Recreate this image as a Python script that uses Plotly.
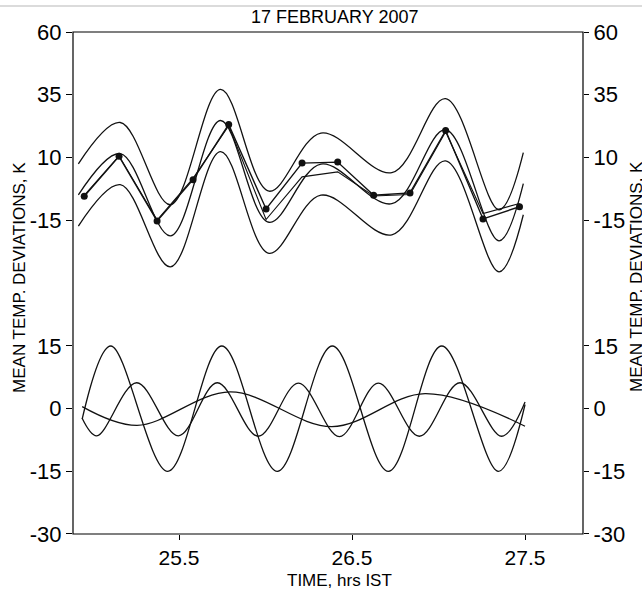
import plotly.graph_objects as go

# ---------------- data ----------------
# observed mean temperature deviations (dots), hours IST
obs_time = [24.952, 25.153, 25.373, 25.581, 25.787, 26.003, 26.211,
            26.417, 26.625, 26.835, 27.041, 27.257, 27.468]
obs_dev = [-5.5, 10.4, -15.4, 1.1, 23.1, -10.6, 7.7, 8.1, -5.1, -4.2,
           20.7, -14.6, -9.7]
# fitted values at the observation times (second thin polyline)
fit_at_obs = [-5.2, 10.6, -15.0, 1.6, 22.6, -14.8, 2.2, 4.2, -5.4, -4.8,
              20.2, -12.4, -8.4]

# fitted curve (turning points), top panel
fit_time = [24.918, 25.160, 25.450, 25.740, 26.020, 26.320, 26.730,
            27.040, 27.350, 27.490]
fit_dev = [-5.0, 11.5, -21.3, 24.7, -15.9, 7.3, -8.5, 21.0, -23.3, -0.5]
band_half_width = 12.4  # envelope above / below the fit

# harmonic components (turning points), bottom panel
h1_time = [24.940, 25.105, 25.435, 25.747, 26.068, 26.386, 26.710,
           27.018, 27.346, 27.500]
h1_dev = [-2.5, 15.0, -15.0, 15.0, -15.0, 15.0, -15.0, 15.0, -15.0, 1.0]

h2_time = [24.940, 25.024, 25.255, 25.496, 25.721, 25.958, 26.190,
           26.427, 26.652, 26.889, 27.124, 27.365, 27.500]
h2_dev = [-2.3, -6.5, 6.2, -6.5, 6.2, -6.6, 6.1, -6.7, 6.1, -6.6, 6.2,
          -6.6, 1.6]

h3_time = [24.940, 25.257, 25.795, 26.384, 26.922, 27.500]
h3_dev = [0.5, -4.0, 4.0, -4.3, 3.6, -4.2]

x_ticks = [25.5, 26.5, 27.5]
x_tick_text = ["25.5", "26.5", "27.5"]
top_ticks = [60, 35, 10, -15]
top_tick_text = ["60", "35", "10", "-15"]
bottom_ticks = [15, 0, -15, -30]
bottom_tick_text = ["15", "0", "-15", "-30"]

upper = [v + band_half_width for v in fit_dev]
lower = [v - band_half_width for v in fit_dev]

# ---------------- figure ----------------
FONT = "Liberation Sans, Arial, Helvetica, sans-serif"
LC = "#111111"
fig = go.Figure()

curve = dict(color=LC, width=1.3, shape="spline", smoothing=1)
for ys in (upper, fit_dev, lower):
    fig.add_trace(go.Scatter(x=fit_time, y=ys, mode="lines", line=curve,
                             xaxis="x", yaxis="y", hoverinfo="skip"))
fig.add_trace(go.Scatter(x=obs_time, y=fit_at_obs, mode="lines",
                         line=dict(color=LC, width=1.1),
                         xaxis="x", yaxis="y"))
fig.add_trace(go.Scatter(x=obs_time, y=obs_dev, mode="lines+markers",
                         line=dict(color=LC, width=1.4),
                         marker=dict(color=LC, size=7),
                         xaxis="x", yaxis="y"))

for tx, ty in ((h1_time, h1_dev), (h2_time, h2_dev), (h3_time, h3_dev)):
    fig.add_trace(go.Scatter(x=tx, y=ty, mode="lines", line=curve,
                             xaxis="x", yaxis="y2", hoverinfo="skip"))

# invisible carriers for the right-hand axes
fig.add_trace(go.Scatter(x=[None], y=[None], xaxis="x", yaxis="y3",
                         showlegend=False))
fig.add_trace(go.Scatter(x=[None], y=[None], xaxis="x", yaxis="y4",
                         showlegend=False))

split = 0.496
top_range = [-40.93, 60]
bot_range = [-30, 29.6]
tickfont = dict(family=FONT, size=22, color="#000000")
yax_common = dict(showgrid=False, zeroline=False, showline=False,
                  ticks="outside", ticklen=6, tickwidth=1, tickcolor="#000",
                  tickfont=tickfont, fixedrange=True)

fig.update_layout(
    width=642, height=590,
    margin=dict(l=73, r=59, t=32, b=56),
    paper_bgcolor="white", plot_bgcolor="white",
    showlegend=False,
    font=dict(family=FONT, color="#000"),
    xaxis=dict(range=[24.887, 27.835], anchor="y2", showgrid=False,
               zeroline=False, showline=False, ticks="outside", ticklen=5,
               tickcolor="#000", tickvals=x_ticks, ticktext=x_tick_text,
               tickfont=dict(family=FONT, size=21, color="#000")),
    yaxis=dict(domain=[split, 1], range=top_range, tickvals=top_ticks,
               ticktext=top_tick_text, anchor="x", **yax_common),
    yaxis2=dict(domain=[0, split], range=bot_range, tickvals=bottom_ticks,
                ticktext=bottom_tick_text, anchor="x", **yax_common),
    yaxis3=dict(overlaying="y", side="right", range=top_range,
                tickvals=top_ticks, ticktext=top_tick_text, anchor="x",
                **yax_common),
    yaxis4=dict(overlaying="y2", side="right", range=bot_range,
                tickvals=bottom_ticks, ticktext=bottom_tick_text, anchor="x",
                **yax_common),
)
fig.update_layout(yaxis3=dict(ticklen=5), yaxis4=dict(ticklen=5))

# frame and the faint scan line at the very top
fig.add_shape(type="rect", xref="paper", yref="paper", x0=0, x1=1, y0=0,
              y1=1, line=dict(color="#000", width=1.2))
fig.add_shape(type="line", xref="paper", yref="paper", x0=-0.2, x1=1.2,
              y0=1.0518, y1=1.0518, line=dict(color="#cfcfcf", width=1.5))

ann_font = dict(family=FONT, size=17, color="#000")
fig.add_annotation(text="17 FEBRUARY 2007", xref="paper", yref="paper",
                   x=0.512, y=1.03, showarrow=False,
                   font=dict(family=FONT, size=18, color="#000"),
                   xanchor="center", yanchor="middle")
fig.add_annotation(text="TIME, hrs IST", xref="paper", yref="paper",
                   x=0.5235, y=-0.093, showarrow=False, font=ann_font,
                   xanchor="center", yanchor="middle")
for xp in (-0.104, 1.106):
    fig.add_annotation(text="MEAN TEMP. DEVIATIONS, K", xref="paper",
                       yref="paper", x=xp, y=0.512, textangle=-90,
                       showarrow=False, font=ann_font,
                       xanchor="center", yanchor="middle")

fig.write_html("out.html")
